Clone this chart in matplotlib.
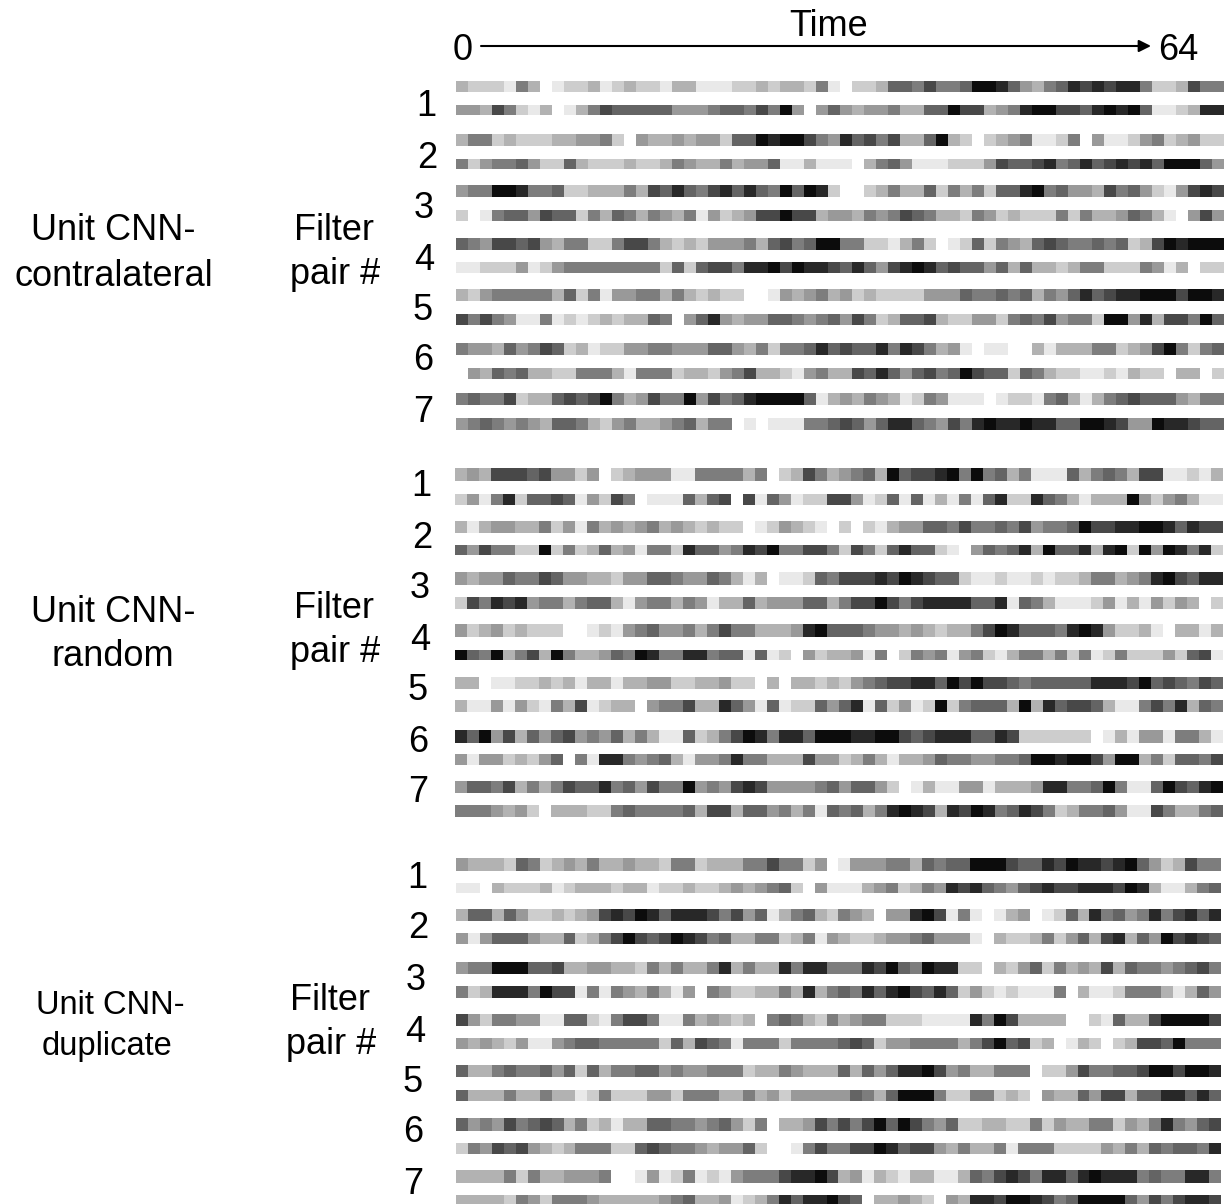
import numpy as np
import matplotlib
matplotlib.use("Agg")
import matplotlib.pyplot as plt
from matplotlib.colors import ListedColormap

plt.rcParams['font.family'] = ['Liberation Sans', 'DejaVu Sans']

# darkness of each time step, 0 = white, 9 = black
# two rows per filter pair, 7 pairs per model
contralateral = [
    [3,2,2,2,1,5,3,0,1,2,2,3,1,2,3,2,2,1,3,3,1,1,1,2,2,3,2,3,3,2,5,1, 0,2,2,3,6,6,5,7,5,5,6,9,9,8,6,4,3,5,6,8,7,8,7,8,8,5,2,2,3,7,5,5],
    [4,4,3,7,5,2,1,3,0,1,3,5,7,6,6,6,6,6,4,4,4,5,6,6,5,7,5,9,4,0,4,6, 4,3,4,4,5,3,3,6,6,9,7,7,3,4,5,8,9,9,7,7,6,8,9,8,9,6,1,1,2,3,8,8],
    [3,5,5,2,3,2,2,2,3,3,4,4,5,2,0,4,3,3,4,3,4,4,2,6,6,9,8,9,9,7,5,4, 8,6,7,5,7,3,3,6,9,3,2,0,2,3,4,5,1,1,2,5,0,4,1,1,2,4,5,2,3,4,2,2],
    [5,2,4,5,5,6,4,2,2,6,3,2,2,2,3,2,2,3,5,4,3,3,5,3,4,4,6,1,1,3,1,1, 1,0,3,5,6,4,1,1,1,2,2,2,4,7,6,6,7,8,5,6,8,6,7,8,7,8,6,9,9,9,6,4],
    [4,5,5,9,9,8,5,5,6,2,2,3,3,3,5,3,7,6,8,6,5,7,8,6,8,6,5,9,6,9,8,2, 0,0,2,3,5,3,3,6,2,5,3,5,2,6,6,8,9,5,6,4,4,3,7,5,6,4,2,1,4,7,8,7],
    [2,0,1,5,6,6,4,7,6,6,2,5,3,6,5,3,5,4,3,5,1,4,2,3,4,7,7,9,7,7,3,4, 4,3,5,4,5,7,6,5,3,3,2,5,4,2,3,2,2,2,5,2,5,3,3,4,6,5,3,1,0,4,7,4],
    [6,5,4,7,7,6,7,4,3,5,5,2,2,5,7,7,5,3,2,3,2,4,4,4,5,3,6,7,5,6,9,9, 5,5,2,2,1,3,5,2,0,1,2,6,2,5,4,3,6,7,6,5,5,6,5,6,2,3,7,9,8,9,9,9],
    [1,1,2,2,2,4,1,2,4,5,5,5,5,5,5,5,5,2,6,2,6,7,7,5,8,8,9,7,9,8,8,7, 6,8,6,4,7,8,9,8,6,7,6,6,4,6,3,6,3,3,2,3,5,5,2,2,2,5,4,1,3,0,2,2],
    [3,2,4,5,5,5,5,5,3,6,2,5,1,4,4,5,5,3,5,3,2,3,2,2,0,0,1,4,3,4,5,3, 4,2,3,2,2,2,2,4,4,4,6,5,5,6,5,6,3,5,4,6,8,6,7,8,8,9,9,9,7,9,9,8],
    [7,5,7,5,4,1,1,5,1,2,1,2,3,2,3,3,6,5,0,4,6,8,4,3,4,4,6,6,5,4,5,6, 4,7,5,2,3,6,6,7,3,2,2,4,4,2,5,6,5,7,4,5,5,2,9,9,4,8,3,7,7,5,9,6],
    [5,4,4,3,6,4,5,7,6,2,3,1,2,2,4,4,5,5,4,4,4,6,6,4,3,5,2,5,5,6,8,6, 7,6,6,8,5,8,7,5,3,4,1,0,1,1,0,0,3,1,3,3,3,5,5,2,3,4,7,9,5,2,5,6],
    [0,4,3,6,5,6,3,3,2,2,5,5,5,3,1,5,5,5,2,3,3,2,4,5,7,3,3,2,1,4,5,3, 3,7,6,8,6,4,6,7,5,6,9,7,6,6,2,6,5,3,2,2,1,1,2,1,3,2,2,0,3,3,0,2],
    [5,6,5,5,7,2,3,3,6,7,6,7,9,5,3,4,7,5,5,9,4,7,5,6,8,9,9,9,9,6,1,3, 4,3,5,4,3,1,2,5,4,1,1,1,0,1,2,2,1,5,6,3,1,3,5,6,7,6,6,6,4,3,5,5],
    [4,5,6,5,4,5,4,3,6,6,5,3,2,4,5,3,3,4,5,6,3,5,5,0,1,0,1,1,1,5,5,6, 7,6,4,6,8,8,6,5,4,7,5,8,9,8,8,9,8,8,6,6,9,9,8,7,4,4,9,8,8,7,6,6],
]

random_pairs = [
    [3,4,3,7,7,7,6,7,4,4,2,4,0,2,3,4,4,4,1,1,5,5,5,5,3,5,0,2,3,7,5,3, 4,5,6,3,9,6,7,7,8,9,5,9,5,6,3,5,1,1,1,6,3,5,6,5,3,7,7,1,1,2,1,3],
    [2,4,1,5,8,2,6,6,7,6,1,4,2,7,5,0,1,1,1,6,3,6,7,0,7,1,6,4,1,2,2,7, 7,4,1,2,6,1,6,1,3,1,5,1,6,8,2,2,8,6,5,3,1,3,3,3,9,4,2,4,5,3,1,1],
    [3,1,3,4,4,3,3,5,2,4,1,5,3,4,3,4,5,3,4,3,2,3,2,2,0,1,2,4,3,2,1,0, 2,0,2,1,3,4,4,6,6,5,7,5,5,6,5,7,4,5,5,6,9,7,7,8,8,9,9,8,6,8,7,7],
    [6,4,7,5,5,2,2,9,2,5,2,3,6,3,4,1,5,5,2,8,6,6,4,5,8,7,9,5,5,7,7,5, 2,7,5,2,6,8,6,6,2,1,0,4,6,5,6,8,3,9,6,6,8,3,8,9,2,9,4,9,8,5,8,2],
    [4,3,4,4,6,5,5,7,6,4,4,3,3,2,4,4,6,6,5,4,4,6,5,3,1,3,0,1,1,2,6,5, 7,7,7,8,7,9,8,7,6,6,2,1,1,2,1,1,2,1,2,2,3,5,5,3,4,5,8,9,7,6,8,8],
    [2,7,5,8,7,8,4,5,5,3,5,6,6,3,1,4,5,5,3,5,4,1,3,3,6,3,4,4,4,6,6,3, 5,7,7,9,7,5,7,8,8,8,8,6,6,8,1,6,5,3,1,1,1,2,4,1,3,1,4,2,4,3,0,2],
    [4,2,3,4,2,3,2,2,2,0,0,1,2,1,4,5,6,4,4,5,3,5,7,5,5,3,3,3,4,8,9,6, 6,6,5,4,4,3,4,3,2,3,3,5,7,9,8,6,6,6,5,8,9,8,4,2,2,3,1,0,3,3,1,3],
    [9,6,5,9,3,5,7,3,9,5,3,3,4,6,5,9,8,5,5,8,8,5,6,6,1,6,1,2,0,4,2,3, 3,4,1,5,0,2,5,4,5,1,4,5,2,1,3,5,5,3,5,2,5,1,2,5,2,2,2,4,2,6,7,1],
    [3,3,0,1,1,2,2,3,2,3,1,3,3,1,3,3,4,4,2,2,3,3,4,2,2,0,3,0,3,3,2,3, 2,4,5,6,7,7,8,8,6,9,7,9,7,7,6,5,6,6,6,6,6,8,8,8,7,9,6,7,6,5,7,6],
    [3,1,1,4,1,4,2,1,5,3,7,1,2,3,3,0,4,5,5,7,3,3,8,6,4,1,6,1,2,2,6,4, 6,8,1,6,2,4,1,2,9,2,5,6,6,6,3,9,3,8,6,7,7,6,3,1,1,5,7,5,8,3,6,5],
    [8,6,9,4,7,3,6,4,6,7,4,5,4,6,3,5,3,1,1,6,2,3,5,7,9,8,5,8,8,6,9,9, 9,8,8,9,9,7,6,7,8,8,8,6,6,8,7,2,2,2,2,2,2,0,1,3,1,4,4,1,5,5,3,1],
    [4,1,4,4,2,3,2,4,6,0,5,1,8,8,5,4,5,6,3,1,4,4,5,8,5,5,3,3,3,7,4,4, 2,3,5,3,1,3,3,4,6,5,5,4,4,5,5,6,9,9,8,9,9,7,4,9,9,3,5,2,6,6,5,7],
    [4,6,6,5,7,3,5,3,5,7,6,6,8,5,6,4,7,5,5,9,4,5,4,7,8,7,4,4,4,4,5,6, 4,6,6,4,2,0,1,3,1,1,4,4,1,3,3,3,4,8,8,5,5,6,9,5,1,1,6,9,7,6,8,9],
    [5,5,5,4,3,4,2,0,3,3,3,2,2,5,6,5,5,5,5,6,3,7,7,3,6,6,4,5,3,5,1,6, 5,6,3,5,8,9,8,7,3,8,7,9,8,5,6,8,7,5,2,3,5,5,6,4,1,1,7,5,3,3,5,6],
]

duplicate = [
    [4,3,3,3,2,6,5,2,3,4,3,5,3,3,4,3,3,2,5,5,2,3,3,3,5,5,7,5,5,2,4,0, 1,4,4,4,5,5,3,6,5,6,6,9,9,9,7,6,6,8,7,9,8,8,7,8,9,6,4,2,3,7,5,5],
    [1,1,0,3,2,2,2,3,1,2,3,3,3,2,3,3,1,2,2,3,2,2,3,4,3,4,5,6,2,0,4,1, 1,1,3,4,5,2,3,5,4,8,7,8,6,5,4,6,7,8,7,7,8,8,8,7,9,8,3,1,1,3,5,6],
    [3,6,6,3,6,4,2,2,3,2,3,4,7,8,7,9,8,6,8,8,8,7,5,7,4,6,1,3,5,6,3,2, 5,4,3,0,4,4,8,9,7,1,5,1,0,1,3,4,0,1,2,6,3,8,5,6,4,5,8,5,7,8,6,8],
    [4,1,4,6,6,6,4,3,3,6,2,3,5,7,9,7,6,7,9,8,7,5,6,3,3,5,5,2,3,5,1,4, 3,2,2,3,4,4,5,6,4,4,4,1,0,3,2,2,3,5,2,4,6,3,7,8,3,6,4,9,7,8,7,6],
    [4,5,5,9,9,9,6,6,7,3,3,4,4,3,3,2,5,3,5,3,3,5,8,3,5,3,3,8,5,8,8,5, 5,5,8,7,9,6,5,9,8,8,2,2,0,3,2,4,6,2,5,3,4,3,7,3,6,5,5,4,5,6,7,5],
    [5,2,3,8,8,8,5,9,7,7,1,5,1,5,4,3,5,3,1,4,0,5,4,2,2,3,3,5,3,8,3,5, 6,5,8,6,8,9,7,6,8,6,2,4,2,1,2,1,1,1,5,0,3,1,1,2,5,5,5,3,1,3,6,4],
    [7,4,2,5,5,4,4,1,1,6,6,2,1,5,7,7,5,1,1,5,3,4,3,2,3,0,5,6,5,3,2,5, 3,4,5,5,2,2,2,1,1,1,1,8,5,9,7,3,3,3,3,0,0,2,1,6,3,3,7,9,9,9,9,7],
    [4,3,4,3,2,4,1,1,4,5,6,6,5,5,5,5,5,2,6,3,7,6,5,1,5,5,5,2,5,5,5,5, 6,7,6,2,4,4,5,5,5,5,3,5,7,9,6,7,2,3,0,1,3,2,0,2,3,7,7,6,9,5,5,5],
    [6,3,3,5,6,5,5,6,4,6,2,6,3,5,5,6,6,4,5,4,4,5,5,5,2,3,3,5,4,3,3,3, 6,3,6,4,6,8,8,9,7,4,5,3,3,5,5,5,0,2,2,4,7,5,5,6,6,7,9,9,7,9,9,8],
    [6,3,3,3,5,3,3,5,3,3,1,2,5,2,2,2,4,4,2,5,5,5,3,3,5,3,4,2,4,4,4,4, 4,6,5,3,6,9,9,9,5,2,2,5,5,2,3,2,0,4,3,3,6,4,7,7,3,6,6,8,8,6,8,6],
    [6,4,5,4,7,5,6,7,6,3,5,2,3,1,3,3,6,6,5,5,4,5,6,4,2,5,0,3,3,4,7,5, 7,5,7,9,6,9,7,5,4,6,2,2,3,3,2,2,5,2,4,3,3,5,5,2,4,3,5,8,5,4,6,7],
    [2,5,4,7,6,7,4,3,2,3,5,5,5,2,2,6,7,6,5,5,4,3,4,4,6,2,0,0,1,5,7,5, 5,7,7,9,8,6,7,7,4,3,5,3,3,5,1,5,5,5,2,2,2,2,4,3,5,3,6,5,6,6,5,8],
    [3,3,3,3,5,2,5,3,3,4,4,4,5,0,0,1,4,1,2,5,1,2,1,4,5,5,5,7,8,8,9,7, 3,4,1,3,2,1,3,3,1,1,3,6,5,7,8,7,5,8,8,6,8,9,8,8,8,5,6,5,5,8,8,5],
    [3,3,3,3,2,5,4,2,5,5,5,4,3,3,3,3,3,4,5,6,3,3,4,1,2,3,5,8,6,8,8,9, 7,6,0,3,3,4,3,2,0,4,3,8,8,7,9,9,8,7,5,6,9,9,9,9,6,4,7,5,7,8,8,7],
]

pair_labels = ['1', '2', '3', '4', '5', '6', '7']

# pixel layout of the slide: row top/bottom, left/right edge of each block
contra_rows = [(82,92.5),(105.5,115.5),(135,146.5),(159,169),(186,197.5),(210,221),(238,250),(262.5,273),(290,301.5),(314,325),(343.5,355),(368,379),(394,405.5),(418.5,430)]
random_rows = [(469,481.5),(494,505),(521.5,533.5),(546,555.5),(572.5,585),(597.5,609),(625,637.5),(650,660),(677,689),(700.5,712),(730.5,743),(754.5,765.5),(782,793.5),(805.5,817.5)]
dup_rows = [(858,871),(883,893),(909,921),(933,944),(962,974),(986,998),(1014.5,1026),(1038.5,1049),(1065.5,1077.5),(1090,1101),(1118.5,1131),(1143,1154),(1170.5,1183),(1195,1204)]

# grey for each darkness step
greys = ListedColormap([[g / 255] * 3 for g in [255, 233, 205, 178, 153, 125, 100, 72, 40, 12]])

fig = plt.figure(figsize=(12.24, 12.04), dpi=100)
ax = fig.add_axes([0, 0, 1, 1])


def draw_block(data, rows, x0, x1):
    for row, (top, bottom) in zip(data, rows):
        ax.imshow(np.array(row)[None, :], cmap=greys, vmin=-0.5, vmax=9.5, aspect='auto',
                  interpolation='nearest', extent=(x0, x1, bottom, top))


def label(x, y, s, size=26):
    # va=center sits a little high against the slide text
    ax.text(x, y + 3, s, fontsize=size, ha='center', va='center')


def pair_numbers(xs, ys):
    for lab, x, y in zip(pair_labels, xs, ys):
        label(x, y, lab)


draw_block(contralateral, contra_rows, 456, 1223.5)
draw_block(random_pairs, random_rows, 455.3, 1223)
draw_block(duplicate, dup_rows, 456, 1220.5)

pair_numbers([426, 427, 424, 424, 423, 423, 423], [104, 155, 205, 257, 308, 358, 409])
pair_numbers([421, 422, 420, 420, 418, 418, 418], [484, 535, 585, 637, 688, 739, 789])
pair_numbers([417, 418, 416, 415, 413, 413, 413], [875, 926, 977, 1029, 1080, 1130, 1181])

for x, y in [(334, 227), (334, 606), (330, 997)]:
    label(x, y, 'Filter')
for x, y in [(335, 271), (335, 650), (331, 1041)]:
    label(x, y, 'pair #')

label(113, 228, 'Unit CNN-')
label(114, 273, 'contralateral')
label(113, 610, 'Unit CNN-')
label(113, 654, 'random')
label(110, 1003, 'Unit CNN-', 23.5)
label(107, 1043, 'duplicate', 23.5)

# time axis along the top
label(829, 24, 'Time')
label(463, 48, '0')
label(1178, 48, '64')
ax.annotate('', xy=(1151, 46), xytext=(481, 46),
            arrowprops=dict(arrowstyle='-|>', color='black', lw=1.5, mutation_scale=18, shrinkA=0, shrinkB=0))

ax.set_xlim(0, 1224)
ax.set_ylim(1204, 0)
ax.axis('off')

fig.savefig('out.png', dpi=100)
